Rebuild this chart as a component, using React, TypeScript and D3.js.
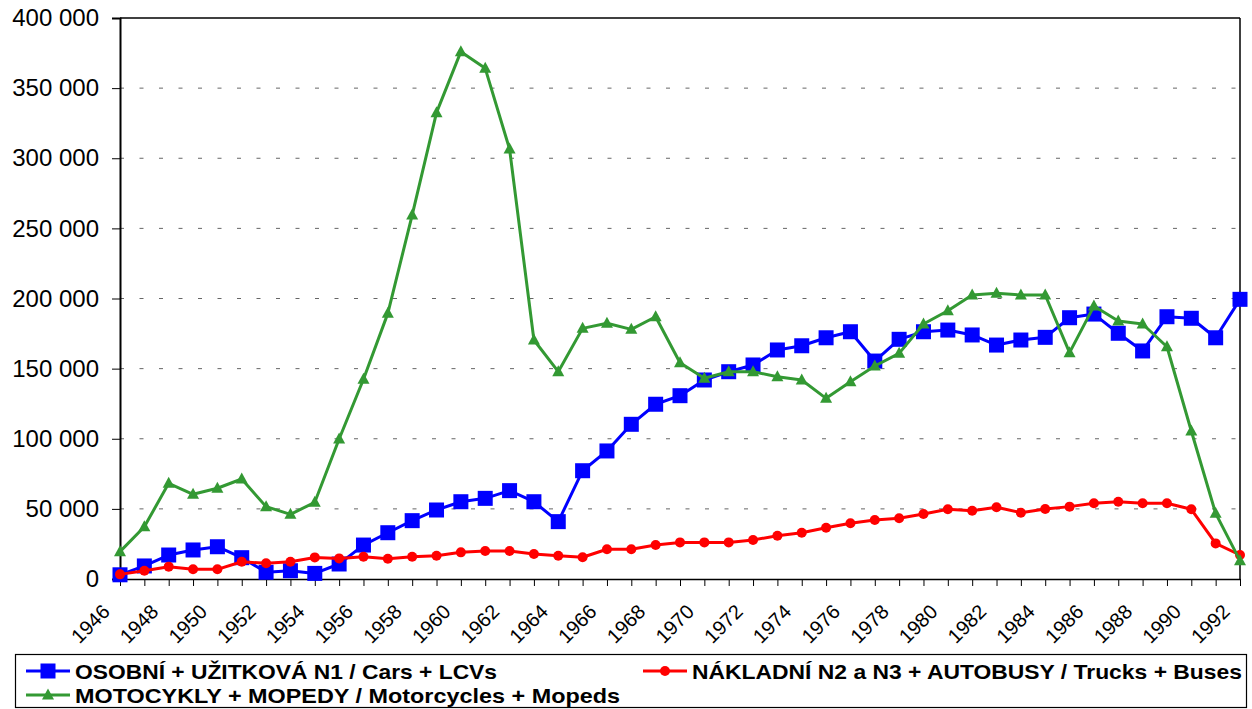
import React, { useEffect, useRef } from 'react';
import * as d3 from 'd3';

const years = d3.range(1946, 1993);

const cars = [
  3000, 9300, 17100, 20700, 23000, 15200, 4800, 5900, 4000, 10700,
  24200, 33000, 41600, 49200, 55100, 57500, 63000, 55100, 40900, 77200,
  91300, 110300, 124600, 130700, 141900, 147800, 152600, 163300, 166300, 172000,
  176300, 155400, 170900, 176300, 177500, 174000, 166800, 170400, 172300, 186300,
  188900, 175200, 162600, 187000, 185900, 172000, 199400,
];

const trucks = [
  3300, 5900, 8800, 6900, 6900, 12300, 11200, 12300, 15400, 14700,
  15900, 14500, 15900, 16600, 19000, 20000, 20000, 17800, 16600, 15500,
  21200, 21200, 24200, 26100, 26100, 26100, 27800, 30900, 33000, 36600,
  39700, 42100, 43300, 46300, 49700, 48700, 51100, 47300, 49900, 51600,
  54000, 55100, 54000, 54000, 49700, 25400, 17100,
];

const motorcycles = [
  19500, 37300, 68200, 60400, 64700, 71300, 51600, 46100, 54700, 99800,
  142400, 189400, 259500, 332500, 376000, 364100, 306600, 170400, 147800, 178700,
  182300, 178000, 187000, 154200, 143100, 147800, 147800, 144200, 141900, 128800,
  140700, 151900, 160900, 181800, 191300, 202500, 203700, 202500, 202500, 161400,
  194600, 184000, 181800, 165600, 105500, 46800, 13100,
];

const yTicks = [0, 50000, 100000, 150000, 200000, 250000, 300000, 350000, 400000];
const xLabelYears = years.filter((y) => (y - 1946) % 2 === 0);

const seriesList = [
  { name: 'OSOBNÍ + UŽITKOVÁ N1 / Cars + LCVs', values: cars, color: '#0000ff', marker: 'square' },
  { name: 'NÁKLADNÍ N2 a N3 + AUTOBUSY / Trucks + Buses', values: trucks, color: '#ff0000', marker: 'circle' },
  { name: 'MOTOCYKLY + MOPEDY / Motorcycles + Mopeds', values: motorcycles, color: '#339933', marker: 'triangle' },
];

const fmt = (v: number) => d3.format(',')(v).replace(/,/g, ' ');

const W = 1252, H = 709;
const margin = { top: 18, right: 12, bottom: 130, left: 120 };

function drawMarker(g: any, type: string, x: number, y: number, color: string) {
  if (type === 'square') {
    g.append('rect').attr('x', x - 7.5).attr('y', y - 7.5).attr('width', 15).attr('height', 15).attr('fill', color);
  } else if (type === 'circle') {
    g.append('circle').attr('cx', x).attr('cy', y).attr('r', 5).attr('fill', color);
  } else {
    g.append('path')
      .attr('d', `M${x},${y - 6.5}L${x + 6},${y + 4.5}L${x - 6},${y + 4.5}Z`)
      .attr('fill', color);
  }
}

const App = () => {
  const ref = useRef<SVGSVGElement>(null);

  useEffect(() => {
    const svg = d3.select(ref.current);
    svg.selectAll('*').remove();

    const x0 = margin.left, x1 = W - margin.right;
    const y0 = H - margin.bottom, y1 = margin.top;

    const x = d3.scaleLinear().domain([1946, 1992]).range([x0, x1]);
    const y = d3.scaleLinear().domain([0, 400000]).range([y0, y1]);

    const font = 'Arial, "Liberation Sans", sans-serif';

    // grid lines
    svg.append('g')
      .selectAll('line')
      .data(yTicks.filter((t) => t > 0 && t < 400000))
      .join('line')
      .attr('x1', x0).attr('x2', x1)
      .attr('y1', (d) => y(d)).attr('y2', (d) => y(d))
      .attr('stroke', '#666')
      .attr('stroke-width', 1)
      .attr('stroke-dasharray', '4,15.5');

    // frame: top + right
    svg.append('line').attr('x1', x0).attr('x2', x1).attr('y1', y1).attr('y2', y1)
      .attr('stroke', '#000').attr('stroke-width', 1.5);
    svg.append('line').attr('x1', x1).attr('x2', x1).attr('y1', y1).attr('y2', y0)
      .attr('stroke', '#000').attr('stroke-width', 1.5);

    // y axis
    const yAxis = svg.append('g')
      .attr('transform', `translate(${x0},0)`)
      .call(d3.axisLeft(y).tickValues(yTicks).tickFormat((d: any) => fmt(d)).tickSize(8).tickPadding(13));
    yAxis.select('.domain').attr('stroke', '#000').attr('stroke-width', 2);
    yAxis.selectAll('.tick line').attr('stroke', '#000').attr('stroke-width', 1);
    yAxis.selectAll('text')
      .attr('font-family', font).attr('font-size', 24).attr('fill', '#000');

    // x axis
    const xAxis = svg.append('g')
      .attr('transform', `translate(0,${y0})`)
      .call(d3.axisBottom(x).tickValues(years).tickFormat(() => '').tickSize(7).tickSizeOuter(0));
    xAxis.select('.domain').attr('stroke', '#000').attr('stroke-width', 1.5);
    xAxis.selectAll('.tick line').attr('stroke', '#000').attr('stroke-width', 1);

    svg.append('g')
      .selectAll('text')
      .data(xLabelYears)
      .join('text')
      .attr('transform', (d) => `translate(${x(d) - 9},${y0 + 34}) rotate(-45)`)
      .attr('text-anchor', 'end')
      .attr('font-family', font)
      .attr('font-size', 20)
      .attr('fill', '#000')
      .text((d) => d);

    // series
    seriesList.forEach((s) => {
      const g = svg.append('g');
      g.append('path')
        .datum(s.values)
        .attr('fill', 'none')
        .attr('stroke', s.color)
        .attr('stroke-width', 3)
        .attr('stroke-linejoin', 'round')
        .attr('d', d3.line<number>().x((_, i) => x(years[i])).y((d) => y(d)));
      s.values.forEach((v, i) => drawMarker(g, s.marker, x(years[i]), y(v), s.color));
    });

    // legend
    const lg = svg.append('g');
    lg.append('rect').attr('x', 15.5).attr('y', 654.5).attr('width', 1231).attr('height', 53)
      .attr('fill', '#fff').attr('stroke', '#000').attr('stroke-width', 1.2);
    const legendPos = [
      { lx: 26, ly: 671, tx: 75, tl: 422 },
      { lx: 643, ly: 671, tx: 692, tl: 550 },
      { lx: 26, ly: 695, tx: 75, tl: 545 },
    ];
    seriesList.forEach((s, i) => {
      const p = legendPos[i];
      lg.append('line').attr('x1', p.lx).attr('x2', p.lx + 44).attr('y1', p.ly).attr('y2', p.ly)
        .attr('stroke', s.color).attr('stroke-width', 3);
      drawMarker(lg, s.marker, p.lx + 22, p.ly, s.color);
      lg.append('text')
        .attr('x', p.tx).attr('y', p.ly + 7.5)
        .attr('font-family', font).attr('font-weight', 'bold').attr('font-size', 21)
        .attr('textLength', p.tl).attr('lengthAdjust', 'spacingAndGlyphs')
        .attr('fill', '#000')
        .text(s.name);
    });
  }, []);

  return (
    <svg ref={ref} width={W} height={H} style={{ position: 'absolute', left: 0, top: 0, background: '#fff' }} />
  );
};

export default App;
